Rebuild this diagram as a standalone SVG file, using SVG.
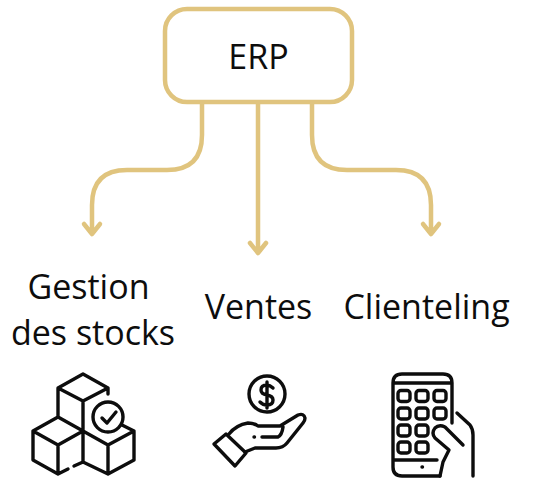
<svg xmlns="http://www.w3.org/2000/svg" width="538" height="484" viewBox="0 0 538 484">
<style>
.t{font-family:"Open Sans","Noto Sans",sans-serif;font-size:34px;fill:#0d0d0d;text-anchor:middle}
.c{fill:none;stroke:#e0c47e;stroke-width:4.5;stroke-linecap:round;stroke-linejoin:round}
.i{fill:none;stroke:#0d0d0d;stroke-width:3.4;stroke-linecap:round;stroke-linejoin:round}
</style>
<rect width="538" height="484" fill="#fff"/>
<g id="connectors">
<path class="c" d="M202 104V135Q202 170 167 170H127Q92 170 92 205V233M84 224L92 234L100 224"/>
<path class="c" d="M258 104V252M250 243L258 253L266 243"/>
<path class="c" d="M312 104V135Q312 170 347 170H396Q431 170 431 205V233M423 224L431 234L439 224"/>
</g>
<g id="erp">
<rect x="165" y="9" width="187" height="93" rx="22" fill="none" stroke="#e0c47e" stroke-width="4.5"/>
<text class="t" x="258.500" y="69">ERP</text>
</g>
<g id="stocks">
<text class="t" x="88.500" y="299">Gestion</text>
<text class="t" x="93" y="345">des stocks</text>
<path class="i" d="M58 388L83 374L108 388L83 401ZM58 388V417M83 401V431M108 388V394M58 417L33 431L58 445L83 431L58 417M33 431V460L58 474L68 469M58 445V474M83 431V462L108 474L134 460V431L122 425M108 445V474M83 431L108 445L134 431M74 466L83 462"/>
<circle class="i" cx="108" cy="417" r="15"/>
<path class="i" d="M102 418L107 423L116 412"/>
</g>
<g id="ventes">
<text class="t" x="258.500" y="319">Ventes</text>
<circle class="i" cx="267" cy="394" r="18"/>
<path class="i" d="M273 388Q270 385 267 385Q261 385 261 390Q261 394 267 395Q273 396 273 400Q273 405 267 405Q263 405 260 402M267 382V408"/>
<path class="i" d="M214 444L226 434L246 453L235 466Z"/>
<path class="i" d="M229 434Q236 425 248 423Q254 423 258 426H280L298 415Q304 413 305 418Q305 421 303 423L287 443Q283 448 276 448H255L245 452M262 437H278Q282 435 283 427"/>
<path class="i" d="M254 437H254.500"/>
</g>
<g id="clienteling">
<text class="t" x="426.500" y="319">Clienteling</text>
<path class="i" d="M440 476H402Q393 476 393 467V383Q393 374 402 374H443Q452 374 452 383V423M393 383H452M393 460H437M457 413L470 425Q473 429 473 435V476"/>
<rect class="i" x="398" y="390.500" width="12" height="11" rx="3"/><rect class="i" x="416" y="390.500" width="12" height="11" rx="3"/><rect class="i" x="434" y="390.500" width="12" height="11" rx="3"/>
<rect class="i" x="398" y="408" width="12" height="11" rx="3"/><rect class="i" x="416" y="408" width="12" height="11" rx="3"/><rect class="i" x="434" y="408" width="12" height="11" rx="3"/>
<rect class="i" x="398" y="425" width="12" height="11" rx="3"/><rect class="i" x="416" y="425" width="12" height="11" rx="3"/>
<rect class="i" x="398" y="442" width="12" height="11" rx="3"/><rect class="i" x="416" y="442" width="12" height="11" rx="3"/>
<path class="i" d="M463 445L445 427Q439 424 435 428Q431 433 435 438L449 450L443 462L440 476"/>
<path class="i" d="M422 467H422.500"/>
</g>
</svg>
